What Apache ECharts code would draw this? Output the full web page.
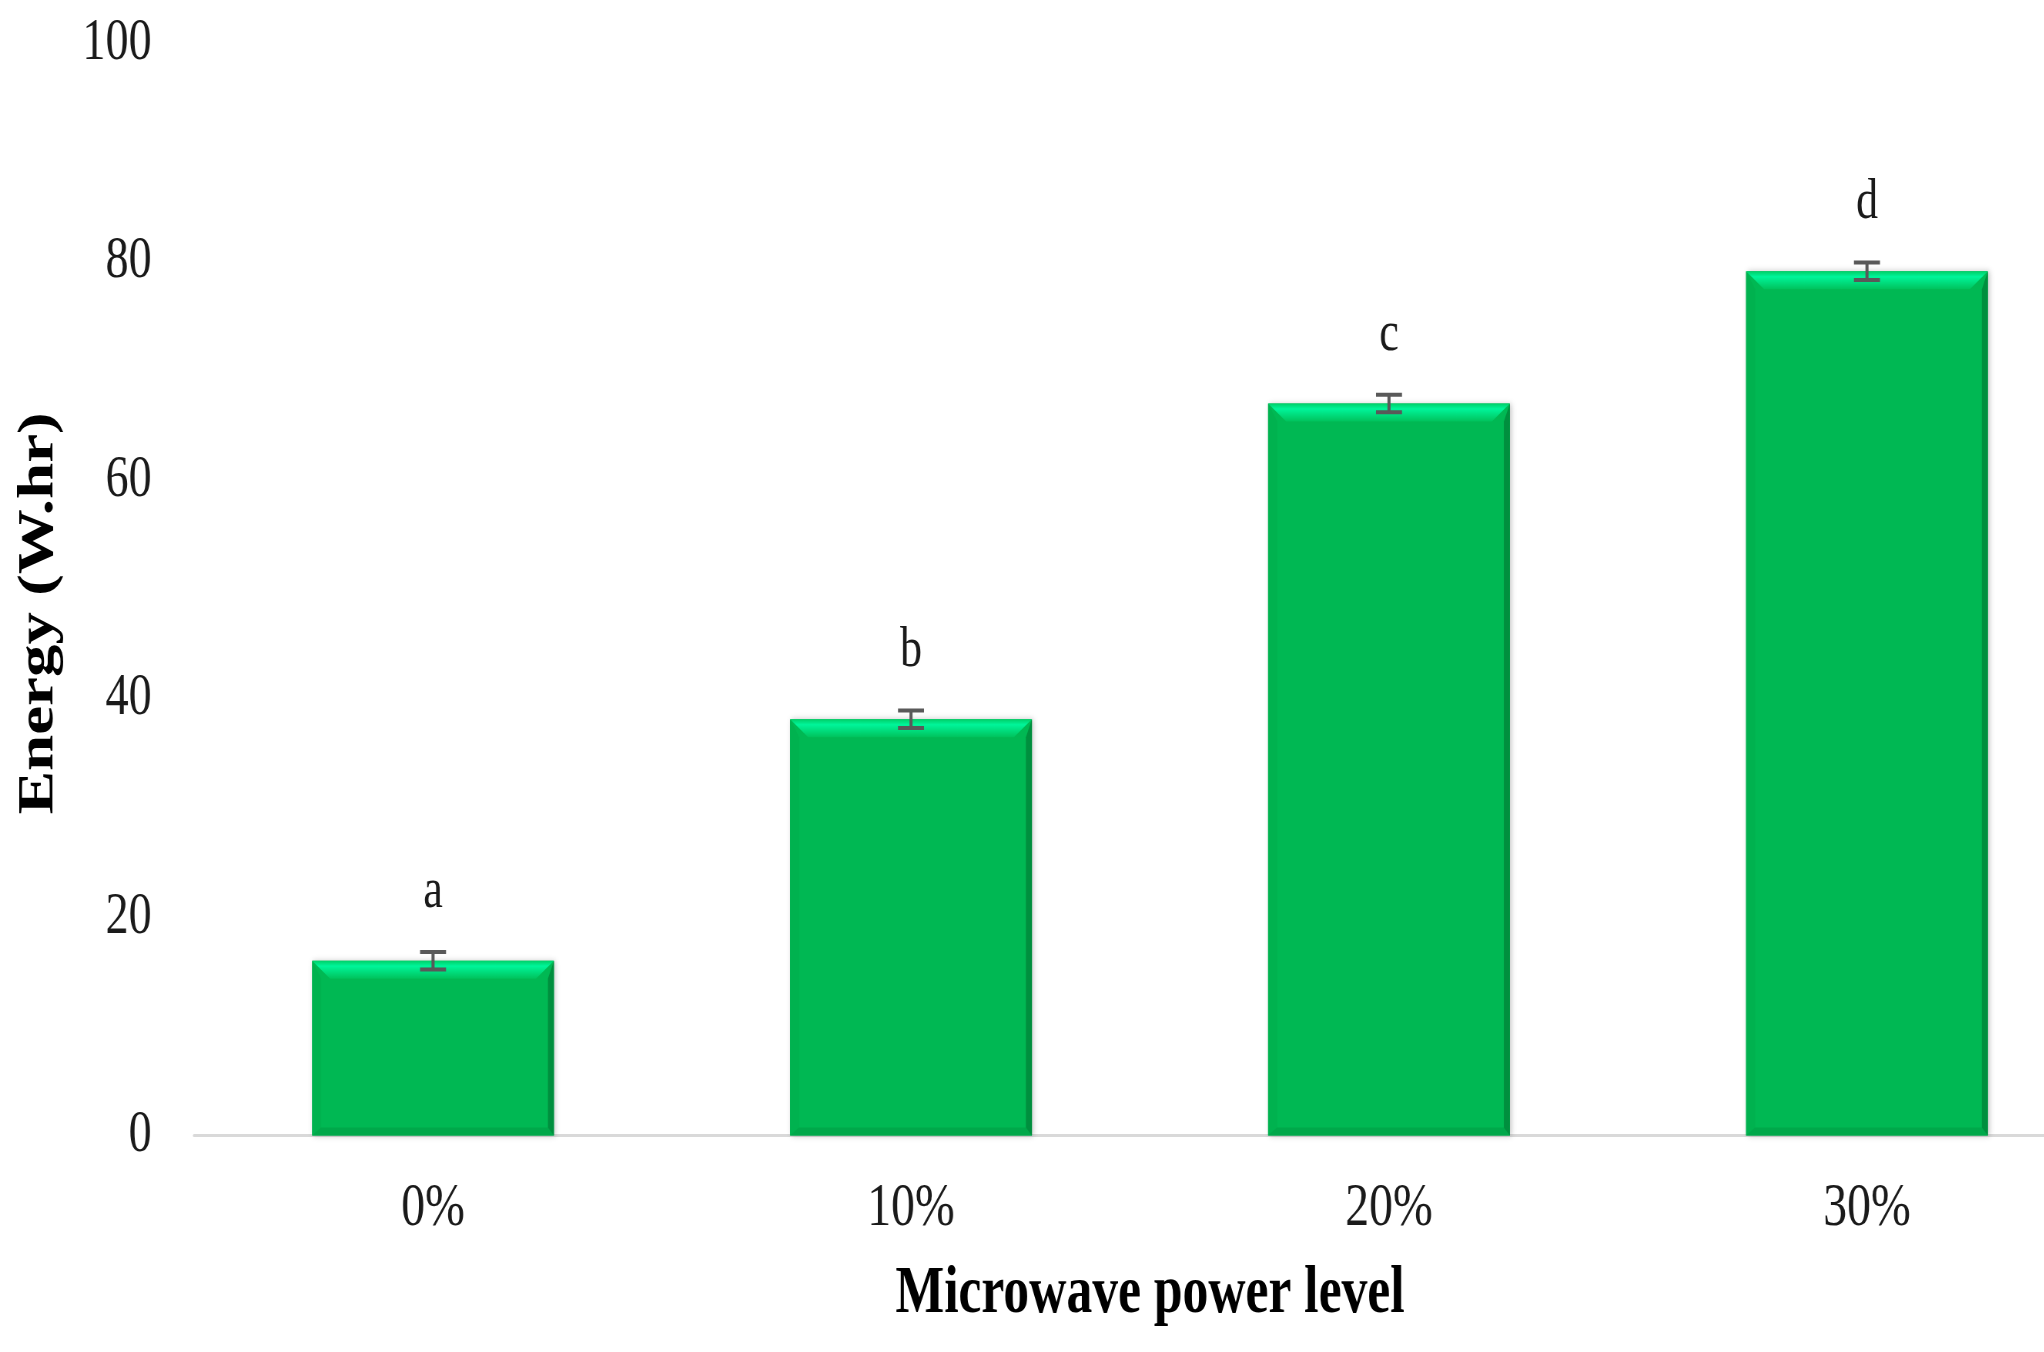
<!DOCTYPE html>
<html>
<head>
<meta charset="utf-8">
<script src="https://cdn.jsdelivr.net/npm/echarts@6/dist/echarts.min.js"></script>
<style>
html,body{margin:0;padding:0;background:#fff;overflow:hidden;width:2044px;height:1352px;}
#chart{position:absolute;left:0;top:0;width:2655px;height:1352px;transform:scaleX(0.77);transform-origin:0 0;}
</style>
</head>
<body>
<div id="chart"></div>
<script>
// ---- data ----
const categories = ['0%', '10%', '20%', '30%'];
const energy = [16.0, 38.1, 67.0, 79.1];
const errors = [0.8, 0.8, 0.8, 0.8];
const letters = ['a', 'b', 'c', 'd'];
const yTicks = [0, 20, 40, 60, 80, 100];

const SX = 0.77; // horizontal compression of the page
const FONT = '"Liberation Serif", "Times New Roman", serif';

const chart = echarts.init(document.getElementById('chart'), null, {renderer: 'canvas'});

const bevelData = categories.map((c, i) => [i, energy[i]]);
const errData = categories.map((c, i) => [i, energy[i] - errors[i], energy[i] + errors[i]]);

chart.setOption({
  backgroundColor: '#ffffff',
  animation: false,
  grid: {left: 252, width: 2483, top: 43, bottom: 216.5, containLabel: false, outerBoundsMode: 'none'},
  xAxis: {
    type: 'category',
    data: categories,
    axisTick: {show: false},
    axisLine: {lineStyle: {color: '#d9d9d9', width: 3}},
    axisLabel: {fontFamily: FONT, fontSize: 62, color: '#1a1a1a', margin: 42},
    name: 'Microwave power level',
    nameLocation: 'middle',
    nameGap: 126,
    nameTextStyle: {fontFamily: FONT, fontSize: 67, fontWeight: 'bold', color: '#000'}
  },
  yAxis: {
    type: 'value',
    min: 0, max: 100, interval: 20,
    axisLine: {show: false},
    axisTick: {show: false},
    splitLine: {show: false},
    axisLabel: {fontFamily: FONT, fontSize: 60, color: '#1a1a1a', margin: 55,
      formatter: v => yTicks.includes(v) ? String(v) : ''},
    name: 'Energy (W.hr)',
    nameLocation: 'middle',
    nameRotate: 90,
    nameGap: 168,
    nameTextStyle: {fontFamily: FONT, fontSize: 65, fontWeight: 'bold', color: '#000', padding: [0, 48, 0, 0]}
  },
  series: [
    {
      type: 'bar',
      data: energy,
      barWidth: 314,
      itemStyle: {
        color: '#00b853',
        shadowColor: 'rgba(0,0,0,0.22)',
        shadowBlur: 6,
        shadowOffsetX: 2,
        shadowOffsetY: 0
      },
      label: {
        show: true,
        position: 'top',
        distance: 40,
        fontFamily: FONT,
        fontSize: 57,
        color: '#1a1a1a',
        formatter: p => letters[p.dataIndex]
      },
      z: 2
    },
    {
      type: 'custom',
      data: bevelData,
      silent: true,
      z: 3,
      renderItem: function (params, api) {
        const i = api.value(0);
        const top = api.coord([i, api.value(1)]);
        const base = api.coord([i, 0]);
        const w = 314;
        const x0 = top[0] - w / 2, x1 = top[0] + w / 2;
        const y0 = top[1], y1 = base[1];
        const bv = 18, bh = 18 / SX;
        const rs = 6 / SX;
        return {
          type: 'group',
          children: [
            { // top bevel highlight
              type: 'polygon',
              shape: {points: [[x0, y0], [x1, y0], [x1 - bh, y0 + bv], [x0 + bh, y0 + bv]]},
              style: {fill: new echarts.graphic.LinearGradient(0, 0, 0, 1, [
                {offset: 0, color: '#00cf68'},
                {offset: 0.3, color: '#00f59a'},
                {offset: 1, color: '#00c25c'}
              ])}
            },
            { // right dark edge
              type: 'polygon',
              shape: {points: [[x1, y0], [x1, y1], [x1 - rs, y1 - 4], [x1 - rs, y0 + bv]]},
              style: {fill: '#008f3e'}
            },
            { // left subtle edge
              type: 'polygon',
              shape: {points: [[x0, y0], [x0 + bh * 0.5, y0 + bv], [x0 + bh * 0.5, y1 - 6], [x0, y1]]},
              style: {fill: '#00b24f'}
            },
            { // bottom subtle edge
              type: 'polygon',
              shape: {points: [[x0, y1], [x1, y1], [x1 - rs, y1 - 8], [x0 + bh * 0.5, y1 - 8]]},
              style: {fill: '#00a84a'}
            }
          ]
        };
      }
    },
    {
      type: 'custom',
      data: errData,
      silent: true,
      z: 4,
      renderItem: function (params, api) {
        const i = api.value(0);
        const lo = api.coord([i, api.value(1)]);
        const hi = api.coord([i, api.value(2)]);
        const cap = 13 / SX;
        const st = {stroke: '#595959', lineWidth: 4};
        return {
          type: 'group',
          children: [
            {type: 'line', shape: {x1: lo[0], y1: lo[1], x2: hi[0], y2: hi[1]}, style: st},
            {type: 'line', shape: {x1: hi[0] - cap, y1: hi[1], x2: hi[0] + cap, y2: hi[1]}, style: st},
            {type: 'line', shape: {x1: lo[0] - cap, y1: lo[1], x2: lo[0] + cap, y2: lo[1]}, style: st}
          ]
        };
      }
    }
  ]
});
</script>
</body>
</html>
